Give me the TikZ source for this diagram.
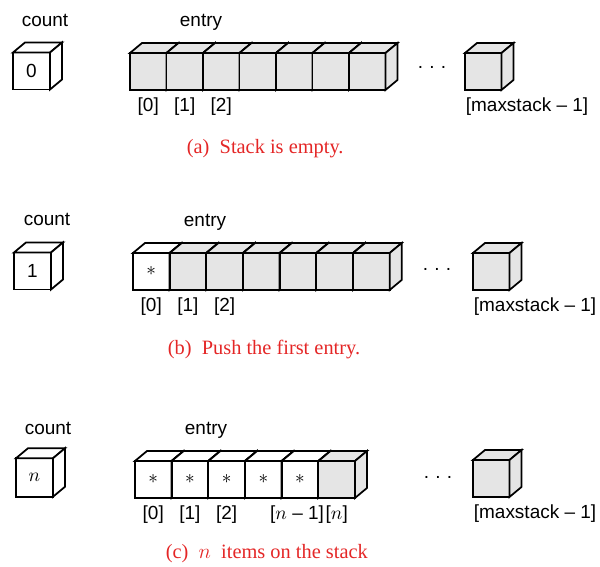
\documentclass[tikz,border=0pt]{standalone}
\usepackage{fontspec}
\setsansfont{Liberation Sans}
\newfontfamily\capfont{Liberation Serif}
\usetikzlibrary{positioning}
\definecolor{cellgray}{gray}{0.9}
\definecolor{capred}{RGB}{228,38,38}
\newcommand{\labelsize}{\fontsize{10.8pt}{13pt}\selectfont}
\newcommand{\cubefaces}[2]{%
  \filldraw[fill=#2] (#1.north west) -- ++(12,10) -- ([shift={(12,10)}]#1.north east) -- (#1.north east) -- cycle;
  \filldraw[fill=#2] (#1.north east) -- ++(12,10) -- ([shift={(12,10)}]#1.south east) -- (#1.south east) -- cycle;
}
\newcommand{\gapdots}{.\kern3.6pt.\kern3.6pt.}
\begin{document}
\begin{tikzpicture}[x=0.02cm,y=0.02cm,line width=1pt,line join=miter,
    every node/.style={font=\sffamily\labelsize},
    cellbox/.style={draw,fill=cellgray,minimum width=0.73cm,minimum height=0.74cm,inner sep=0pt,outer sep=0pt},
    fullbox/.style={cellbox,fill=white},
    idx/.style={inner sep=0pt,text height=7.5pt,text depth=2.5pt},
    caption/.style={font=\capfont\fontsize{11.6pt}{14pt}\selectfont,text=capred,anchor=base west,inner sep=0pt}]
  \useasboundingbox (0,0) rectangle (600,-567);

  % (a) empty stack
  \node[anchor=base] (counta) at (45,-27) {count};
  \node[fullbox,minimum width=0.74cm] (cnta) at (31.5,-71) {0};
  \cubefaces{cnta}{white}
  \node[anchor=base] (entrya) at (201,-27) {entry};
  \foreach \i in {0,...,6} {
    \node[cellbox,anchor=north west] (a\i) at ({130+36.5*\i},-53) {};
    \cubefaces{a\i}{cellgray}
  }
  \foreach \i in {0,1,2}
    \node[idx,below=4pt of a\i] (la\i) {[\i]};
  \node[anchor=base] (dotsa) at (432,-69) {\gapdots};
  \node[cellbox,anchor=north west] (maxa) at (465,-53) {};
  \cubefaces{maxa}{cellgray}
  \node[idx,below right=4pt and 0pt of maxa.south west] (lmaxa) {[maxstack -- 1]};
  \node[caption] (capa) at (186,-154) {(a)\enspace Stack is empty.};

  % (b) one entry pushed
  \node[anchor=base] (countb) at (47,-226) {count};
  \node[fullbox,minimum width=0.74cm] (cntb) at (32.5,-271) {1};
  \cubefaces{cntb}{white}
  \node[anchor=base] (entryb) at (205,-227) {entry};
  \node[fullbox,anchor=north west] (b0) at (133,-253) {$\ast$};
  \cubefaces{b0}{white}
  \foreach \i in {1,...,6} {
    \node[cellbox,anchor=north west] (b\i) at ({133+36.7*\i},-253) {};
    \cubefaces{b\i}{cellgray}
  }
  \foreach \i in {0,1,2}
    \node[idx,below=4pt of b\i] (lb\i) {[\i]};
  \node[anchor=base] (dotsb) at (437,-271) {\gapdots};
  \node[cellbox,anchor=north west] (maxb) at (473,-253) {};
  \cubefaces{maxb}{cellgray}
  \node[idx,below right=4pt and 0pt of maxb.south west] (lmaxb) {[maxstack -- 1]};
  \node[caption] (capb) at (167,-355) {(b)\enspace Push the first entry.};

  % (c) n entries pushed
  \node[anchor=base] (countc) at (48,-435) {count};
  \node[fullbox,minimum width=0.74cm,minimum height=0.77cm] (cntc) at (34.5,-477.5) {$n$};
  \cubefaces{cntc}{white}
  \node[anchor=base] (entryc) at (206,-435) {entry};
  \foreach \i in {0,...,4} {
    \node[fullbox,anchor=north west] (c\i) at ({135+36.7*\i},-461) {$\ast$};
    \cubefaces{c\i}{white}
  }
  \node[cellbox,anchor=north west] (c5) at ({135+36.7*5},-461) {};
  \cubefaces{c5}{cellgray}
  \foreach \i in {0,1,2}
    \node[idx,below=4pt of c\i] (lc\i) {[\i]};
  \node[idx,below=4pt of c5] (lcn) {[$n$]};
  \node[idx,left=0pt of lcn] (lcm) {[$n$ -- 1]};
  \node[anchor=base] (dotsc) at (438,-479) {\gapdots};
  \node[cellbox,anchor=north west] (maxc) at (473,-460) {};
  \cubefaces{maxc}{cellgray}
  \node[idx,below right=4pt and 0pt of maxc.south west] (lmaxc) {[maxstack -- 1]};
  \node[caption] (capc) at (165,-559) {(c)\enspace $n$\enspace items on the stack};
\end{tikzpicture}
\end{document}
